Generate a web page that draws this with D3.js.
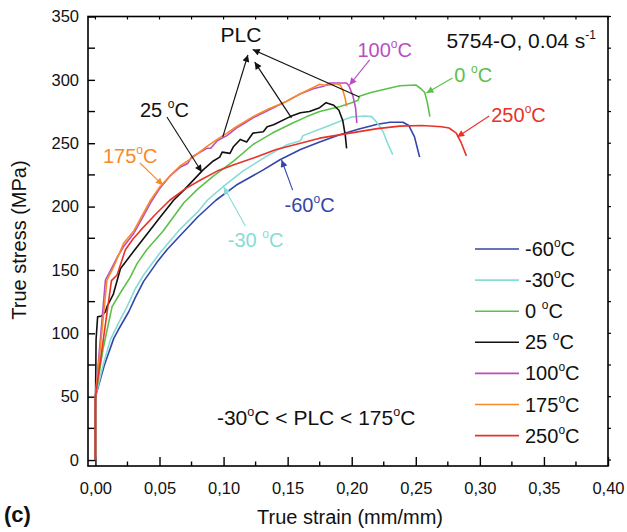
<!DOCTYPE html>
<html>
<head>
<meta charset="utf-8">
<script src="https://cdnjs.cloudflare.com/ajax/libs/d3/7.8.5/d3.min.js"></script>
<style>
  body { margin: 0; background: #fff; }
  svg { font-family: "Liberation Sans", Arial, Helvetica, sans-serif; }
</style>
</head>
<body>
<svg id="chart" width="627" height="532"></svg>
<script>
// curves: [strain, stress]
let curveM60 = [[0,0],[0,50],[0.007,75],[0.0143,96],[0.018,103],[0.026,117],[0.031,128],[0.0376,141],[0.048,156],[0.0558,166],[0.066,177],[0.08,192],[0.094,205],[0.11,217],[0.131,229],[0.144,237],[0.16,245],[0.175,251],[0.19,256.5],[0.205,261],[0.22,265],[0.23,266.5],[0.24,266.5],[0.2445,264],[0.249,255],[0.251,247],[0.253,239]];
let curveM30 = [[0,0],[0,50],[0.006,75],[0.0117,95],[0.018,108],[0.0247,121],[0.031,135],[0.0376,146],[0.05,163],[0.065,181],[0.08,196],[0.0873,205],[0.0999,216],[0.115,228],[0.134,240],[0.15,249],[0.16,252],[0.162,256],[0.18,263],[0.195,269],[0.2,270.7],[0.21,271.5],[0.2155,271],[0.22,266],[0.2245,259],[0.228,250],[0.232,241]];
let curve0 = [[0,0],[0,50],[0.006,88],[0.013,121],[0.0195,132],[0.027,144],[0.0325,155],[0.040,166],[0.053,181],[0.069,203],[0.08,214],[0.092,224],[0.108,236],[0.123,249],[0.138,258],[0.154,266],[0.165,271],[0.175,275],[0.191,279],[0.2,282],[0.205,284],[0.206,287],[0.215,290],[0.2375,295.4],[0.25,296],[0.254,293],[0.257,290],[0.259,282],[0.261,271]];
let curve25 = [[0,0],[0,40],[0.0005,95],[0.0017,113],[0.0047,113.6],[0.0078,117],[0.009,121],[0.014,131],[0.0195,151],[0.03,165],[0.04,178],[0.05,191],[0.061,205],[0.07,214],[0.084,229],[0.092,236],[0.097,239],[0.0989,243],[0.105,242],[0.1075,247],[0.113,253],[0.118,251],[0.123,258],[0.131,259],[0.134,263],[0.139,264.6],[0.152,271],[0.16,274],[0.167,275],[0.175,278],[0.18,282],[0.186,280],[0.19,276],[0.193,268],[0.195,256],[0.196,246]];
let curve100 = [[0,0],[0,50],[0.0078,142],[0.012,150],[0.017,160],[0.022,168.5],[0.030,179],[0.036,190],[0.043,203],[0.05,214],[0.058,224],[0.066,231],[0.072,234],[0.075,239],[0.087,246],[0.09,246],[0.095,252],[0.1026,256],[0.11,262],[0.115,265],[0.123,270],[0.135,276],[0.149,283],[0.16,289],[0.17,293],[0.178,295],[0.183,297.5],[0.196,297.5],[0.198,295],[0.201,287],[0.203,278],[0.204,266]];
let curve175 = [[0,0],[0,50],[0.009,142],[0.014,152],[0.022,171],[0.03,181],[0.043,205],[0.0506,216],[0.058,224],[0.066,232],[0.075,238],[0.087,247.5],[0.095,253],[0.1026,258],[0.11,263],[0.123,271],[0.135,277],[0.149,283],[0.16,289],[0.17,294],[0.175,296.5],[0.18,295.5],[0.188,297],[0.191,296],[0.193,292],[0.195,285],[0.196,279]];
let curve250 = [[0,0],[0,50],[0.0125,141.6],[0.0169,146],[0.0234,166],[0.029,174],[0.035,181],[0.046,193],[0.058,205],[0.07,214],[0.082,221],[0.095,228],[0.108,233],[0.125,239],[0.141,245],[0.16,250],[0.175,254],[0.1986,258],[0.22,261.5],[0.2375,263.5],[0.255,264],[0.27,263],[0.276,262],[0.2816,258],[0.2856,250],[0.2895,240]];

let seriesNames = ["-60°C", "-30°C", "0 °C", "25 °C", "100°C", "175°C", "250°C"];
let seriesColors = ["#3346a8", "#86dcd6", "#5cc04a", "#111111", "#b94ec0", "#f7892b", "#e83228"];
let seriesData = [curveM60, curveM30, curve0, curve25, curve100, curve175, curve250];

let xTicks = [0, 0.05, 0.10, 0.15, 0.20, 0.25, 0.30, 0.35, 0.40];
let yTicks = [0, 50, 100, 150, 200, 250, 300, 350];

// annotations: [label, colorIndex, textX, textY, arrowFrom, arrowTo] in data units
let notes = [
    ["25 °C", 3, 0.0347, 270.7, [0.0558, 270.7], [0.083, 227.3]],
    ["175°C", 5, 0.0059, 234.4, [0.0347, 234.4], [0.0526, 217]],
    ["-60°C", 0, 0.1476, 195.7, [0.1539, 213], [0.1453, 236.8]],
    ["-30 °C", 1, 0.1033, 168, [0.117, 184.7], [0.1001, 215.5]],
    ["100°C", 4, 0.2045, 318, [0.214, 315.7], [0.1983, 296]],
    ["0 °C", 2, 0.2801, 298, [0.2786, 301.5], [0.2583, 289.7]],
    ["250°C", 6, 0.3089, 266.8, [0.3073, 271.5], [0.2823, 254.9]]
];
let plcArrows = [
    [[0.0994, 255], [0.119, 319.7]],
    [[0.153, 270], [0.1243, 314]],
    [[0.206, 286.5], [0.1227, 324]]
];

let svg = d3.select("#chart");
let mLeft = 88, mRight = 608, mTop = 16.5, mBottom = 466;

let x = d3.scaleLinear().domain([-0.0058, 0.40]).range([mLeft, mRight]);
let y = d3.scaleLinear().domain([-4.7, 350]).range([mBottom, mTop]);

// arrowheads, one per colour
let defs = svg.append("defs");
seriesColors.forEach(function (c, i) {
    defs.append("marker")
        .attr("id", "arr" + i)
        .attr("viewBox", "0 -5 10 10")
        .attr("refX", 10)
        .attr("refY", 0)
        .attr("markerWidth", 9)
        .attr("markerHeight", 7)
        .attr("markerUnits", "userSpaceOnUse")
        .attr("orient", "auto")
        .append("path")
        .attr("d", "M0,-5L10,0L0,5Z")
        .attr("fill", c);
});

// text with a small raised "o" for each degree sign
function degText(sel, label, size) {
    let parts = label.split("°");
    parts.forEach(function (p, i) {
        if (i == 0) {
            sel.append("tspan").text(p);
        } else {
            sel.append("tspan").text("o").attr("font-size", size * 0.6).attr("dy", -size * 0.45);
            sel.append("tspan").text(p).attr("dy", size * 0.45);
        }
    });
}

// frame
svg.append("rect")
    .attr("x", mLeft).attr("y", mTop)
    .attr("width", mRight - mLeft).attr("height", mBottom - mTop)
    .attr("fill", "none").attr("stroke", "#000").attr("stroke-width", 1.6);

// bottom axis, ticks inside
let xAxis = d3.axisBottom(x).tickValues(xTicks).tickSize(-9).tickPadding(16)
    .tickFormat(d => d3.format(".2f")(d).replace(".", ","));
let gx = svg.append("g").attr("transform", `translate(0,${mBottom})`).call(xAxis);
gx.select(".domain").remove();
gx.selectAll("line").attr("stroke-width", 1.4);
gx.selectAll("text").attr("font-size", 16.5).attr("fill", "#111");
d3.range(0.025, 0.4, 0.05).forEach(function (v) {
    svg.append("line").attr("x1", x(v)).attr("x2", x(v))
        .attr("y1", mBottom).attr("y2", mBottom - 4.5)
        .attr("stroke", "#000").attr("stroke-width", 1.4);
});

// top ticks, short and inside
d3.range(0, 0.4001, 0.025).forEach(function (v) {
    svg.append("line").attr("x1", x(v)).attr("x2", x(v))
        .attr("y1", mTop).attr("y2", mTop + 3)
        .attr("stroke", "#000").attr("stroke-width", 1.2);
});

// left axis, ticks inside
let yAxis = d3.axisLeft(y).tickValues(yTicks).tickSize(-7).tickPadding(9);
let gy = svg.append("g").attr("transform", `translate(${mLeft},0)`).call(yAxis);
gy.select(".domain").remove();
gy.selectAll("line").attr("stroke-width", 1.4);
gy.selectAll("text").attr("font-size", 16.5).attr("fill", "#111");
d3.range(25, 350, 50).forEach(function (v) {
    svg.append("line").attr("x1", mLeft).attr("x2", mLeft + 7)
        .attr("y1", y(v)).attr("y2", y(v))
        .attr("stroke", "#000").attr("stroke-width", 1.4);
});

// right ticks, short and outside
d3.range(0, 350.1, 25).forEach(function (v) {
    svg.append("line").attr("x1", mRight).attr("x2", mRight + 3)
        .attr("y1", y(v)).attr("y2", y(v))
        .attr("stroke", "#000").attr("stroke-width", 1.2);
});

// axis titles
svg.append("text")
    .attr("x", 350).attr("y", 524)
    .attr("text-anchor", "middle").attr("font-size", 20).attr("fill", "#111")
    .text("True strain (mm/mm)");
svg.append("text")
    .attr("transform", "translate(26,240) rotate(-90)")
    .attr("text-anchor", "middle").attr("font-size", 20).attr("fill", "#111")
    .text("True stress (MPa)");
svg.append("text")
    .attr("x", 4).attr("y", 522)
    .attr("font-size", 22).attr("font-weight", "bold").attr("fill", "#111")
    .text("(c)");

// curves
let line = d3.line().x(d => x(d[0])).y(d => y(d[1]));
svg.append("g")
    .selectAll("path")
    .data(seriesData)
    .enter()
    .append("path")
    .attr("d", line)
    .attr("fill", "none")
    .attr("stroke", (d, i) => seriesColors[i])
    .attr("stroke-width", 1.6)
    .attr("stroke-linejoin", "round");

// PLC arrows
plcArrows.forEach(function (a) {
    svg.append("line")
        .attr("x1", x(a[0][0])).attr("y1", y(a[0][1]))
        .attr("x2", x(a[1][0])).attr("y2", y(a[1][1]))
        .attr("stroke", "#111").attr("stroke-width", 1.2)
        .attr("marker-end", "url(#arr3)");
});
svg.append("text")
    .attr("x", x(0.1136)).attr("y", y(330))
    .attr("text-anchor", "middle").attr("font-size", 21).attr("fill", "#111")
    .text("PLC");

// temperature labels with arrows
notes.forEach(function (n) {
    let t = svg.append("text")
        .attr("x", x(n[2])).attr("y", y(n[3]))
        .attr("font-size", 20).attr("fill", seriesColors[n[1]]);
    degText(t, n[0], 20);
    svg.append("line")
        .attr("x1", x(n[4][0])).attr("y1", y(n[4][1]))
        .attr("x2", x(n[5][0])).attr("y2", y(n[5][1]))
        .attr("stroke", seriesColors[n[1]]).attr("stroke-width", 1.1)
        .attr("marker-end", "url(#arr" + n[1] + ")");
});

// condition labels
let cond = svg.append("text")
    .attr("x", x(0.2739)).attr("y", y(325))
    .attr("font-size", 21).attr("fill", "#111");
cond.append("tspan").text("5754-O, 0.04 s");
cond.append("tspan").text("-1").attr("font-size", 12).attr("dy", -9);

let plcRange = svg.append("text")
    .attr("x", x(0.0948)).attr("y", y(27.6))
    .attr("font-size", 21).attr("fill", "#111");
degText(plcRange, "-30°C < PLC < 175°C", 21);

// legend
let legend = svg.append("g");
seriesNames.forEach(function (name, i) {
    let ly = 249 + i * 31.1;
    legend.append("line")
        .attr("x1", 475).attr("x2", 519)
        .attr("y1", ly).attr("y2", ly)
        .attr("stroke", seriesColors[i]).attr("stroke-width", 1.6);
    let t = legend.append("text")
        .attr("x", 525).attr("y", ly + 7)
        .attr("font-size", 20).attr("fill", "#111");
    degText(t, name, 20);
});
</script>
</body>
</html>
